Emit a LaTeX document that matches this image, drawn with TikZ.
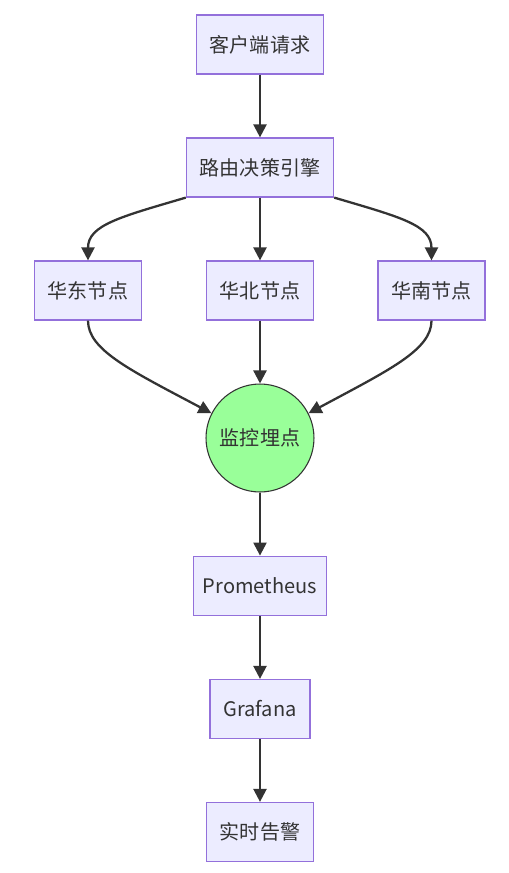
\documentclass[tikz,border=0pt]{standalone}
\usepackage{fontspec}
\setmainfont{Noto Sans CJK SC}
\usetikzlibrary{arrows.meta}
\definecolor{boxfill}{HTML}{ECECFF}
\definecolor{boxline}{HTML}{9370DB}
\definecolor{probefill}{HTML}{99FF99}
\definecolor{ink}{HTML}{333333}

\begin{document}
\begin{tikzpicture}[x=0.02cm, y=-0.02cm,
    stage/.style={draw=boxline, fill=boxfill, line width=0.7pt, minimum height=1.18cm, inner xsep=0.27cm, text=ink, font=\fontsize{11.4}{13}\selectfont},
    probe/.style={circle, draw=ink, fill=probefill, line width=0.6pt, minimum size=2.16cm, inner sep=0pt, text=ink, font=\fontsize{11.4}{13}\selectfont},
    flow/.style={draw=ink, line width=1.3pt, -{Triangle[length=0.26cm, width=0.26cm]}}]
    \useasboundingbox (0,0) rectangle (508,873);
    \node[stage] (client) at (260,44.5) {客户端请求};
    \node[stage] (router) at (260,167.5) {路由决策引擎};
    \node[stage] (east)  at (88,290.5)  {华东节点};
    \node[stage] (north) at (260,290.5) {华北节点};
    \node[stage] (south) at (431.5,290.5) {华南节点};
    \node[probe] (probe) at (260,438) {监控埋点};
    \node[stage, inner xsep=0.19cm] (prom) at (260,585.7) {Prometheus};
    \node[stage] (graf)  at (260,709) {Grafana};
    \node[stage] (alert) at (260,832) {实时告警};
    % edges
    \draw[flow] (client) -- (router);
    \draw[flow] (router.south west) .. controls (120,217) and (88,225) .. (east.north);
    \draw[flow] (router) -- (north);
    \draw[flow] (router.south east) .. controls (400,217) and (431.5,225) .. (south.north);
    \draw[flow] (east.south) .. controls (88,350) and (130,370) .. (probe.153);
    \draw[flow] (north) -- (probe);
    \draw[flow] (south.south) .. controls (431.5,350) and (389,370) .. (probe.27);
    \draw[flow] (probe) -- (prom);
    \draw[flow] (prom) -- (graf);
    \draw[flow] (graf) -- (alert);
\end{tikzpicture}
\end{document}
